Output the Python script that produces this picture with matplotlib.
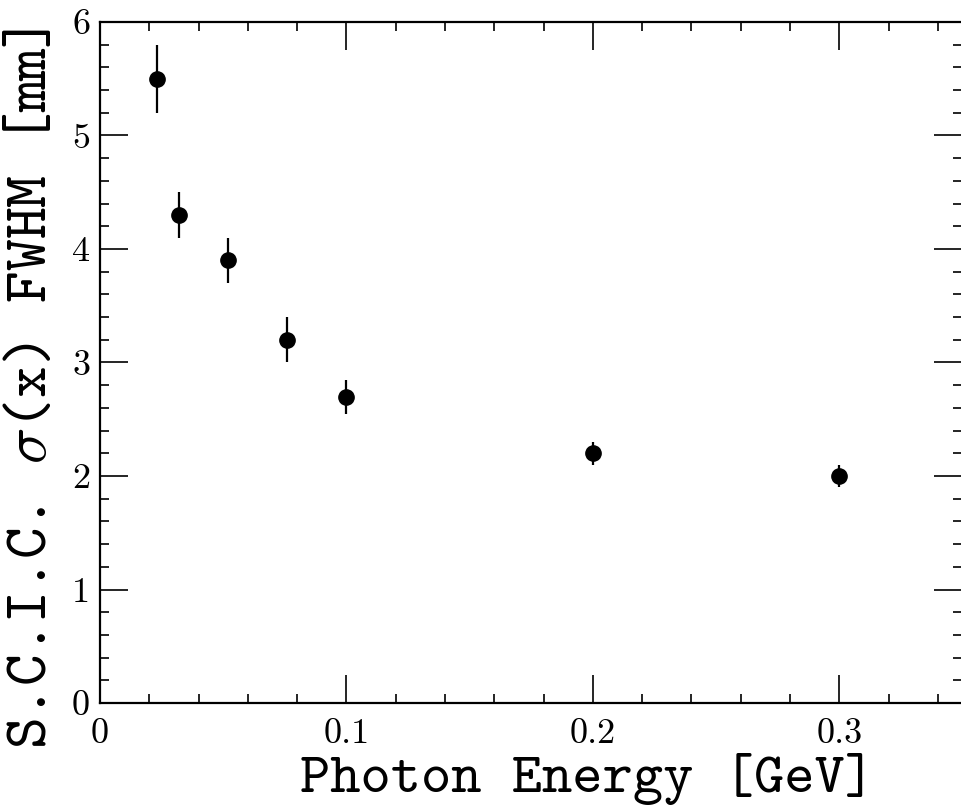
import numpy as np
import matplotlib
matplotlib.use("Agg")
import matplotlib.pyplot as plt
from matplotlib.ticker import MultipleLocator, FormatStrFormatter

# valores
energia = [0.023, 0.032, 0.052, 0.076, 0.100, 0.200, 0.300]      # GeV
sigma_fwhm = [5.50, 4.30, 3.90, 3.20, 2.70, 2.20, 2.00]          # mm
error_sigma = [0.30, 0.20, 0.20, 0.20, 0.15, 0.10, 0.10]

plt.rcParams['mathtext.fontset'] = 'cm'
plt.rcParams['axes.unicode_minus'] = False

fig = plt.figure(figsize=(9.61, 8.10), dpi=100)
ax = fig.add_axes([0.104, 0.132, 0.8975, 0.841])

ax.errorbar(energia, sigma_fwhm, yerr=error_sigma, fmt='o', color='black',
            markersize=11, elinewidth=1.6, capsize=0)

ax.set_xlim(0, 0.35)
ax.set_ylim(0, 6)

ax.xaxis.set_major_locator(MultipleLocator(0.1))
ax.xaxis.set_minor_locator(MultipleLocator(0.02))
ax.yaxis.set_major_locator(MultipleLocator(1))
ax.yaxis.set_minor_locator(MultipleLocator(0.2))
ax.xaxis.set_major_formatter(FormatStrFormatter('%g'))
ax.yaxis.set_major_formatter(FormatStrFormatter('%g'))

ax.tick_params(which='both', direction='in', top=True, right=True, width=1.2)
ax.tick_params(which='major', length=20, labelsize=26)
ax.tick_params(which='minor', length=6.5)
ax.tick_params(axis='x', which='major', pad=11)
ax.tick_params(axis='y', which='major', pad=7)
for lab in ax.get_xticklabels() + ax.get_yticklabels():
    lab.set_fontfamily('cmr10')

for sp in ax.spines.values():
    sp.set_linewidth(1.6)

# tipo maquina de escribir con serifas, como en el original
ax.set_xlabel("Photon Energy [GeV]", fontfamily='cmtt10', fontsize=41.5, va='top')
ax.xaxis.set_label_coords(0.565, -0.074)
ax.set_ylabel(r"S.C.I.C. $\sigma$(x) FWHM [mm]", fontfamily='cmtt10', fontsize=43.5)
ax.yaxis.set_label_coords(-0.046, 0.462)

fig.savefig("out.png", dpi=100)
